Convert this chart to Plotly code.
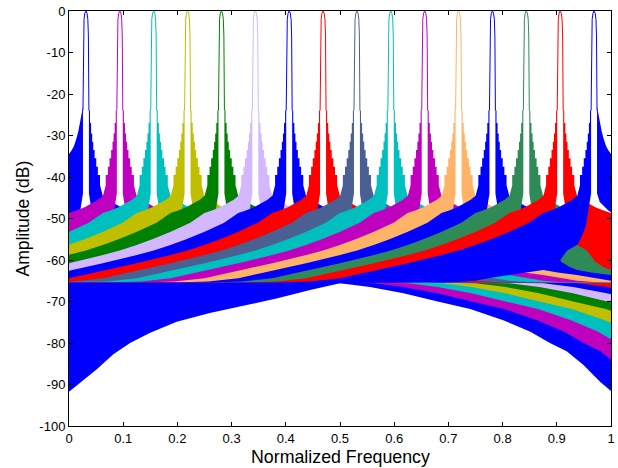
import plotly.graph_objects as go

# ---- data ----
CENTERS = [0.03125, 0.09375, 0.15625, 0.21875, 0.28125, 0.34375, 0.40625, 0.46875,
           0.53125, 0.59375, 0.65625, 0.71875, 0.78125, 0.84375, 0.90625, 0.96875]
COLORS = ["#0000ff", "#bf00bf", "#00bfbf", "#bfbf00", "#008000", "#d4b8ff", "#0000ff", "#ff0000",
          "#4a5f92", "#00bfbf", "#bf00bf", "#ffb366", "#0000ff", "#2e8b57", "#ff0000", "#0000ff"]

# upper (sidelobe peak) envelope, dB versus distance from the channel centre (stepped near the lobe)
U_D = [0.0055, 0.0075, 0.0075, 0.0095, 0.0095, 0.0115, 0.0115, 0.0135, 0.0135, 0.016, 0.016,
       0.019, 0.019, 0.022, 0.022, 0.026, 0.026, 0.031, 0.04, 0.05, 0.065, 0.08,
       0.094, 0.12, 0.156, 0.19, 0.219, 0.25, 0.281, 0.344, 0.406, 0.469, 0.524, 0.586,
       0.649, 0.709, 0.77, 0.82, 0.856, 0.887, 0.918, 0.949, 0.969, 1.0]
U_ENV = [-24, -24, -27, -27, -29.5, -29.5, -31.5, -31.5, -33.5, -33.5, -35.5,
         -35.5, -37.5, -37.5, -39.5, -39.5, -42, -44.5, -45.5, -46.3, -47.3, -48.1,
         -48.7, -51, -53.2, -55, -56.4, -57.7, -58.8, -60.8, -62.6, -64.4, -65.2, -65.4,
         -65.4, -65.4, -65.4, -65.4, -65.4, -65.4, -65.4, -65.4, -65.4, -65.4]
# lower (null) envelope
L_D = [0.0055, 0.008, 0.0105, 0.014, 0.017, 0.022, 0.026, 0.031, 0.04, 0.05, 0.065, 0.08,
       0.094, 0.12, 0.156, 0.19, 0.219, 0.25, 0.281, 0.344, 0.406, 0.469, 0.524, 0.586,
       0.649, 0.709, 0.77, 0.82, 0.856, 0.887, 0.918, 0.949, 0.969, 1.0]
L_ENV_LEFT = [-44, -46.5, -48.5, -51, -52.5, -54.2, -55.3, -56.3, -57, -57.8, -60.5, -61.7,
              -62.4, -63, -63.6, -64.3, -65, -65.3, -65.4, -65.5, -65.5, -65.6, -67.2, -69.3,
              -71.1, -72.8, -74.9, -77.6, -80, -82.7, -86.4, -89.6, -91.7, -95]
L_ENV_RIGHT = [-44, -46.5, -48.5, -51, -52.5, -54.2, -55.3, -56.3, -57, -57.8, -60.5, -61.7,
               -62.4, -63, -63.6, -64.3, -65, -65.3, -65.4, -65.5, -65.5, -65.6, -66.5, -68,
               -70, -71.8, -74.5, -77.3, -80, -82, -85.3, -89.4, -91.7, -95]
# outer band of the two edge channels (raised near 0 and 1)
EDGE_D = [0.0055, 0.008, 0.0105, 0.014, 0.017, 0.022, 0.026, 0.031, 0.04, 0.05, 0.065, 0.08,
          0.094, 0.12, 0.156, 0.19, 0.219, 0.25, 0.281, 0.344, 0.406, 0.469, 0.524, 0.586,
          0.649, 0.709, 0.77, 0.82, 0.856, 0.887, 0.918, 0.949, 0.969, 1.0]
EDGE_U = [-23, -25, -27, -29, -30.5, -32.5, -33.5, -34.5, -36, -37.5, -39.5, -41,
          -42, -44, -46, -48, -49, -50, -51, -53, -55, -57, -59, -61,
          -62, -63, -64, -64.5, -65, -65, -65, -65, -65, -65]
EDGE_L = [-44, -45, -46, -46.5, -47, -47.5, -48, -48.5, -49, -50, -52, -54,
          -56, -58, -60, -62, -63, -64, -65, -65.5, -65.5, -65.6, -66.5, -68,
          -70, -71.8, -74.5, -77.3, -80, -82, -85.3, -89.4, -91.7, -95]
# main lobe half profile
LOBE_D = [0.0, 0.002, 0.0035, 0.0045, 0.005, 0.0055]
LOBE_DB = [0.0, -0.5, -2.0, -6.0, -12.0, -24.0]

X_TICKS = [0, 0.1, 0.2, 0.3, 0.4, 0.5, 0.6, 0.7, 0.8, 0.9, 1]
X_TICKTEXT = ["0", "0.1", "0.2", "0.3", "0.4", "0.5", "0.6", "0.7", "0.8", "0.9", "1"]
Y_TICKS = [0, -10, -20, -30, -40, -50, -60, -70, -80, -90, -100]
Y_TICKTEXT = ["0", "-10", "-20", "-30", "-40", "-50", "-60", "-70", "-80", "-90", "-100"]

FONT = "Liberation Sans, Arial, sans-serif"
fig = go.Figure()


def band(c, sign, ud, upper, ld, lower, color):
    xs = [c + sign * d for d in ud] + [c + sign * d for d in reversed(ld)]
    ys = list(upper) + list(reversed(lower))
    fig.add_trace(go.Scatter(x=xs, y=ys, mode="lines", fill="toself", fillcolor=color,
                             line=dict(width=0, color=color), hoverinfo="skip",
                             showlegend=False))


n = len(CENTERS)
for i, (c, col) in enumerate(zip(CENTERS, COLORS)):
    if i == 0:
        band(c, -1, EDGE_D, EDGE_U, L_D, L_ENV_LEFT, col)
    else:
        band(c, -1, U_D, U_ENV, L_D, L_ENV_LEFT, col)
    if i == n - 1:
        band(c, +1, EDGE_D, EDGE_U, EDGE_D, EDGE_L, col)
    else:
        band(c, +1, U_D, U_ENV, L_D, L_ENV_RIGHT, col)
    lx = [c - d for d in reversed(LOBE_D)] + [c + d for d in LOBE_D[1:]]
    ly = list(reversed(LOBE_DB)) + LOBE_DB[1:]
    fig.add_trace(go.Scatter(x=lx, y=ly, mode="lines", line=dict(color=col, width=1),
                             hoverinfo="skip", showlegend=False))

axis_common = dict(showgrid=False, zeroline=False, showline=True, linecolor="black",
                   linewidth=1, mirror="ticks", ticks="inside", ticklen=4,
                   tickcolor="black", automargin=False,
                   tickfont=dict(size=13, color="black", family=FONT))
fig.update_xaxes(range=[0, 1], tickvals=X_TICKS, ticktext=X_TICKTEXT, **axis_common)
fig.update_yaxes(range=[-100, 0], tickvals=Y_TICKS, ticktext=Y_TICKTEXT, **axis_common)
fig.add_annotation(text="Normalized Frequency", xref="paper", yref="paper", x=0.5, y=0,
                   yshift=-31, xanchor="center", yanchor="middle", showarrow=False,
                   font=dict(size=17.8, color="black", family=FONT))
fig.add_annotation(text="Amplitude (dB)", xref="paper", yref="paper", x=0, y=0.5,
                   xshift=-47, xanchor="center", yanchor="middle", textangle=-90,
                   showarrow=False, font=dict(size=17.5, color="black", family=FONT))
fig.update_layout(width=618, height=468, margin=dict(l=69, r=7, t=11, b=42),
                  plot_bgcolor="white", paper_bgcolor="white", showlegend=False)

fig.write_html("out.html", config={"displayModeBar": False},
               post_script="document.body.style.margin='0';document.body.style.overflow='hidden';")
